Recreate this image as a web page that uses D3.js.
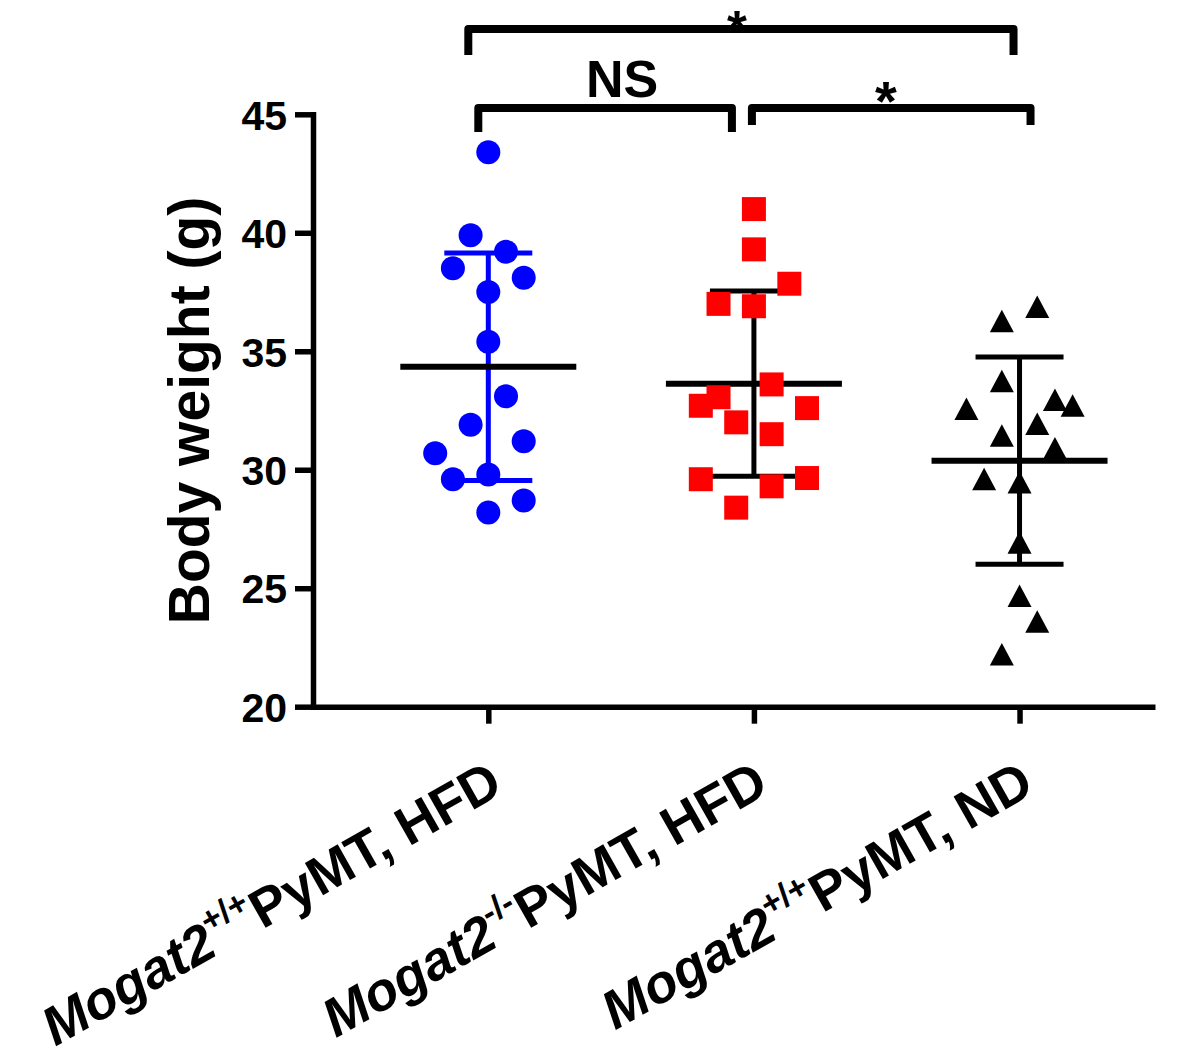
<!DOCTYPE html>
<html>
<head>
<meta charset="utf-8">
<script src="https://cdn.jsdelivr.net/npm/d3@7"></script>
<style>
  html, body { margin: 0; padding: 0; background: #fff; }
  svg { display: block; }
  text { font-family: "Liberation Sans", Arial, sans-serif; font-weight: bold; fill: #000; }
</style>
</head>
<body>
<svg id="chart" width="1200" height="1062"></svg>
<script>
// ---------- data ----------
const geneNames  = ["Mogat2", "Mogat2", "Mogat2"];
const genotypes  = ["+/+", "-/-", "+/+"];
const conditions = ["PyMT, HFD", "PyMT, HFD", "PyMT, ND"];
const colors     = ["#0000ff", "#ff0000", "#000000"];
const shapes     = ["circle", "square", "triangle"];

const yTicks = [20, 25, 30, 35, 40, 45];

// body weight (g), Mogat2+/+ PyMT, HFD
const wtHFD = [43.4, 39.9, 39.2, 38.5, 38.1, 37.5, 35.4, 33.1, 31.9, 31.2, 30.7, 29.6, 29.8, 28.7, 28.2];
const wtHFDLane = [0, -1, 1, -2, 2, 0, 0, 1, -1, 2, -3, -2, 0, 2, 0];
// body weight (g), Mogat2-/- PyMT, HFD
const koHFD = [41.0, 39.3, 37.85, 37.0, 36.9, 33.6, 33.06, 32.7, 32.6, 32.0, 31.5, 29.6, 29.3, 29.65, 28.4];
const koHFDLane = [0, 0, 2, -2, 0, 1, -2, -3, 3, -1, 1, -3, 1, 3, -1];
// body weight (g), Mogat2+/+ PyMT, ND
const wtND = [36.87, 36.27, 33.73, 32.94, 32.56, 32.7, 31.93, 31.43, 30.9, 29.6, 29.46, 26.92, 24.67, 23.58, 22.2];
const wtNDLane = [1, -1, -1, 2, -3, 3, 1, -1, 2, -2, 0, 0, 0, 1, -1];

const groupValues = [wtHFD, koHFD, wtND];
const groupLanes  = [wtHFDLane, koHFDLane, wtNDLane];
// mean line colour and SD colour for each group
const meanColors = ["#000000", "#000000", "#000000"];
const sdColors   = ["#0000ff", "#000000", "#000000"];

// significance brackets: [from group, to group, label]
const brackets = [
  {from: 0, to: 2, label: "*"},
  {from: 0, to: 1, label: "NS"},
  {from: 1, to: 2, label: "*"}
];

// ---------- layout ----------
const svg = d3.select("#chart");
const y = d3.scaleLinear().domain([20, 45]).range([706.7, 114.3]);
const x = d3.scaleLinear().domain([-0.66, 2.51]).range([313, 1155]);
const laneW = 17.7;
const axisW = 5.5;

// y axis
const yAxis = svg.append("g")
  .attr("transform", `translate(${x.range()[0]},0)`)
  .call(d3.axisLeft(y).tickValues(yTicks).tickSize(18).tickSizeOuter(0).tickPadding(8));
yAxis.select(".domain").attr("stroke", "#000").attr("stroke-width", axisW).attr("stroke-linecap", "square");
yAxis.selectAll(".tick line").attr("stroke", "#000").attr("stroke-width", axisW);
yAxis.selectAll(".tick text").style("font-size", "41px").attr("dy", "0.36em");

// x axis
const xAxis = svg.append("g")
  .attr("transform", `translate(0,${y.range()[0]})`)
  .call(d3.axisBottom(x).tickValues([0, 1, 2]).tickFormat("").tickSize(17).tickSizeOuter(0));
xAxis.select(".domain").attr("stroke", "#000").attr("stroke-width", axisW);
xAxis.selectAll(".tick line").attr("stroke", "#000").attr("stroke-width", axisW);

// y axis title
svg.append("text")
  .attr("transform", `translate(209,${(y(20) + y(45)) / 2}) rotate(-90)`)
  .attr("text-anchor", "middle")
  .style("font-size", "57px")
  .text("Body weight (g)");

// x category labels
const labelAngle = -29.5;
groupValues.forEach((vals, i) => {
  const t = svg.append("text")
    .attr("transform", `translate(${x(i) + 17},792) rotate(${labelAngle})`)
    .attr("text-anchor", "end")
    .style("font-size", "54px");
  t.append("tspan").style("font-style", "italic").text(geneNames[i]);
  t.append("tspan").style("font-size", "34px").attr("dy", -23).text(genotypes[i]);
  t.append("tspan").attr("dy", 23).text(conditions[i]);
});

// mean and SD lines
groupValues.forEach((vals, i) => {
  const m = d3.mean(vals), s = d3.deviation(vals);
  const cx = x(i);
  const g = svg.append("g");
  g.append("line").attr("x1", cx).attr("x2", cx).attr("y1", y(m - s)).attr("y2", y(m + s))
    .attr("stroke", sdColors[i]).attr("stroke-width", 5);
  [m - s, m + s].forEach(v => {
    g.append("line").attr("x1", cx - 44).attr("x2", cx + 44).attr("y1", y(v)).attr("y2", y(v))
      .attr("stroke", sdColors[i]).attr("stroke-width", 5);
  });
  g.append("line").attr("x1", cx - 88).attr("x2", cx + 88).attr("y1", y(m)).attr("y2", y(m))
    .attr("stroke", meanColors[i]).attr("stroke-width", 6);
});

// points
function shapePath(shape) {
  if (shape === "circle") return d3.symbol().type(d3.symbolCircle).size(Math.PI * 12 * 12)();
  if (shape === "square") return "M-12,-12H12V12H-12Z";
  return "M0,-11.5L12,11L-12,11Z";
}
groupValues.forEach((vals, i) => {
  svg.append("g").selectAll("path")
    .data(vals.map((v, k) => ({v, lane: groupLanes[i][k]})))
    .join("path")
    .attr("d", shapePath(shapes[i]))
    .attr("transform", d => `translate(${x(i) + d.lane * laneW},${y(d.v)})`)
    .attr("fill", colors[i]);
});

// significance brackets
const bracketLayout = [
  {x1: -20, x2: -6, yh: 29, yt: 55, labelX: 737, labelY: 47, fs: 51},
  {x1: -10, x2: -22, yh: 108, yt: 132, labelX: 622, labelY: 97, fs: 52},
  {x1: -2, x2: 11, yh: 108, yt: 125, labelX: 886, labelY: 120, fs: 56}
];
brackets.forEach((b, k) => {
  const L = bracketLayout[k];
  const xa = x(b.from) + L.x1, xb = x(b.to) + L.x2;
  svg.append("path")
    .attr("d", d3.line()([[xa, L.yt], [xa, L.yh], [xb, L.yh], [xb, L.yt]]))
    .attr("fill", "none").attr("stroke", "#000").attr("stroke-width", 8)
    .attr("stroke-linejoin", "round");
  svg.append("text")
    .attr("x", L.labelX).attr("y", L.labelY)
    .attr("text-anchor", "middle")
    .style("font-size", L.fs + "px")
    .text(b.label);
});
</script>
</body>
</html>
